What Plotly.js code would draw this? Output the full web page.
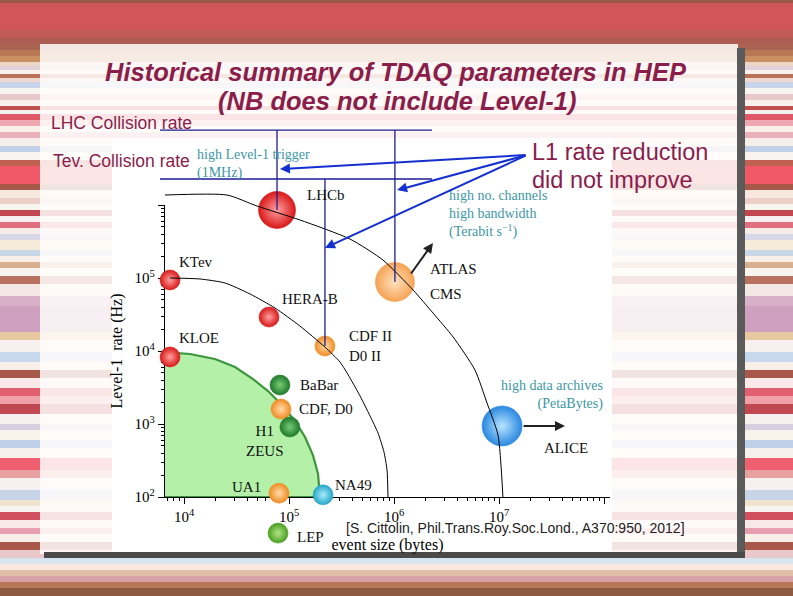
<!DOCTYPE html>
<html><head><meta charset="utf-8">
<script src="https://cdn.plot.ly/plotly-3.0.1.min.js"></script>
<style>html,body{margin:0;padding:0;background:#fff;overflow:hidden}#chart{width:793px;height:596px}</style>
</head><body><div id="chart"></div>
<script>
// ---------------- data ----------------
const experiments = ['LHCb','KTev','HERA-B','KLOE','CDF II<br>D0 II','ATLAS','BaBar','CDF, D0','H1<br>ZEUS','UA1','NA49','LEP','ALICE'];
const eventSize = [76900, 7360, 64500, 7360, 220000, 1020000, 82000, 83900, 102000, 80300, 211000, 78600, 10700000];
const l1Rate    = [855000, 94000, 29200, 8280, 11700, 88100, 3420, 1600, 910, 113, 107, 32, 940];

// green region boundary
const greenSize = [6590, 11400, 19700, 30600, 45400, 63100, 85700, 114000, 142000, 169000, 189000, 197000];
const greenRate = [9680, 9100, 7760, 6040, 4130, 2830, 1820, 1100, 664, 376, 207, 100];

// inner black curve (KTev -> CDF II -> 1 MB)
const curveASize = [7360, 14200, 24600, 42500, 73600, 127000, 220000, 306000, 381000, 475000, 591000, 704000, 803000, 858000, 877000];
const curveARate = [100000, 96900, 85400, 60400, 38800, 22000, 11300, 7070, 4270, 2420, 1290, 753, 413, 234, 100];

// outer black curve (LHCb -> ATLAS -> ALICE)
const curveBSize = [6590, 25700, 49500, 127000, 381000, 786000, 1520000, 2350000, 3650000, 5900000, 7690000, 9780000, 10900000];
const curveBRate = [1370000, 1370000, 969000, 624000, 342000, 176000, 68500, 33200, 15600, 5500, 1940, 706, 100];

// collision rates (blue guide lines) and their size extent
const lhcRate = 10600000;
const tevRate = 2270000;
const guideSize = [5910, 2300000];

// arrow end points
const arrowFrom = {size: 18500000, rate: 4840000};
const arrowTo = [{size: 82000, rate: 3110000}, {size: 1070000, rate: 1600000}, {size: 220000, rate: 258000}];
const atlasArrow = {from: {size: 1420000, rate: 110000}, to: {size: 2350000, rate: 301000}};
const aliceArrow = {from: {size: 16600000, rate: 940}, to: {size: 42500000, rate: 940}};

const xTickVals = [1e4, 1e5, 1e6, 1e7, 1e8];
const xTickText = ['10<sup>4</sup>','10<sup>5</sup>','10<sup>6</sup>','10<sup>7</sup>',''];
const yTickVals = [1e2, 1e3, 1e4, 1e5, 1e6];
const yTickText = ['10<sup>2</sup>','10<sup>3</sup>','10<sup>4</sup>','10<sup>5</sup>',''];

// ---------------- styles ----------------
const W = 793, H = 596;
const SERIF = 'Liberation Serif, Times New Roman, serif';
const SANS = 'Liberation Sans, Arial, sans-serif';
const MAROON = '#8a1d4a';
const TEAL = '#3d97a6';
const bubbleSize = [37, 20, 20, 20, 20, 39, 20, 20, 20, 20, 20, 20, 40];
const RED = ['#d81818', '#ffa0a0'], ORG = ['#f08c24', '#ffdcaa'], ORGL = ['#f5a354', '#ffe2bf'],
      DG = ['#1f7a2a', '#78cc78'], LG = ['#4aa020', '#b0e488'], CY = ['#26a6c8', '#a8ecfa'], BL = ['#2a88e0', '#b8e4ff'];
const bubbleStyle = [RED, RED, RED, RED, ORG, ORGL, DG, ORG, DG, ORG, CY, LG, BL];
// label offsets (pixels from bubble centre)
const labelStyle = [
  {dx: 28, dy: 15, a: 'left'}, {dx: 7, dy: 18, a: 'left'}, {dx: 11, dy: 18, a: 'left'}, {dx: 7, dy: 19, a: 'left'},
  {dx: 22, dy: 0, a: 'left'}, {dx: 33, dy: 13, a: 'left'}, {dx: 18, dy: 0, a: 'left'}, {dx: 16, dy: 0, a: 'left'},
  {dx: -25, dy: -14, a: 'center'}, {dx: -16, dy: 6, a: 'right'}, {dx: 10, dy: 10, a: 'left'}, {dx: 17, dy: -4, a: 'left'},
  {dx: 40, dy: -22, a: 'left'}
];

const L = Math.log10;
const px = v => v / W, py = v => 1 - v / H;

// ---------------- traces ----------------
const traces = [];
// green region on the visible axes
traces.push({x: [greenSize[0]].concat(greenSize, [greenSize[0]]), y: [100].concat(greenRate, [100]),
  xaxis: 'x', yaxis: 'y', mode: 'lines', fill: 'toself', fillcolor: '#b4f0a8', line: {width: 0}, hoverinfo: 'skip'});
traces.push({x: greenSize.concat([greenSize[0]]), y: greenRate.concat([100]), xaxis: 'x', yaxis: 'y', mode: 'lines',
  line: {color: '#3c963c', width: 2.2}, hoverinfo: 'skip'});
// bubbles on full-page axes
traces.push({x: eventSize, y: l1Rate, xaxis: 'x2', yaxis: 'y2', mode: 'markers', hoverinfo: 'skip',
  marker: {size: bubbleSize, color: bubbleStyle.map(s => s[0]), opacity: 1,
    gradient: {type: 'radial', color: bubbleStyle.map(s => s[1])},
    line: {color: bubbleStyle.map(s => s[0]), width: 0.6}}});
// black curves
traces.push({x: curveASize, y: curveARate, xaxis: 'x2', yaxis: 'y2', mode: 'lines', line: {color: '#000', width: 1, shape: 'spline', smoothing: 0.6}, hoverinfo: 'skip'});
traces.push({x: curveBSize, y: curveBRate, xaxis: 'x2', yaxis: 'y2', mode: 'lines', line: {color: '#000', width: 1, shape: 'spline', smoothing: 0.6}, hoverinfo: 'skip'});
// blue guide lines
const NAVY = '#1c1c96';
traces.push({x: guideSize, y: [lhcRate, lhcRate], xaxis: 'x2', yaxis: 'y2', mode: 'lines', line: {color: NAVY, width: 1.3}, hoverinfo: 'skip'});
traces.push({x: guideSize, y: [tevRate, tevRate], xaxis: 'x2', yaxis: 'y2', mode: 'lines', line: {color: NAVY, width: 1.3}, hoverinfo: 'skip'});
traces.push({x: [eventSize[0], eventSize[0]], y: [lhcRate, l1Rate[0]], xaxis: 'x2', yaxis: 'y2', mode: 'lines', line: {color: NAVY, width: 1.3}, hoverinfo: 'skip'});
traces.push({x: [eventSize[5], eventSize[5]], y: [lhcRate, l1Rate[5]], xaxis: 'x2', yaxis: 'y2', mode: 'lines', line: {color: NAVY, width: 1.3}, hoverinfo: 'skip'});
traces.push({x: [eventSize[4], eventSize[4]], y: [tevRate, l1Rate[4]], xaxis: 'x2', yaxis: 'y2', mode: 'lines', line: {color: NAVY, width: 1.3}, hoverinfo: 'skip'});

// ---------------- annotations ----------------
const ann = [];
experiments.forEach((name, i) => {
  const s = labelStyle[i];
  ann.push({text: name, x: L(eventSize[i]), y: L(l1Rate[i]), xref: 'x2', yref: 'y2', showarrow: false,
    xanchor: s.a, yanchor: 'middle', align: s.a === 'center' ? 'center' : 'left', xshift: s.dx, yshift: s.dy,
    font: {family: SERIF, size: 15, color: '#111'}});
});
ann.push({text: 'CMS', x: L(eventSize[5]), y: L(l1Rate[5]), xref: 'x2', yref: 'y2', showarrow: false,
  xanchor: 'left', yanchor: 'middle', xshift: 33, yshift: -12, font: {family: SERIF, size: 15, color: '#111'}});
// teal notes
ann.push({text: 'high Level-1 trigger<br>(1MHz)', x: L(eventSize[0]), y: L(l1Rate[0]), xref: 'x2', yref: 'y2', showarrow: false,
  xanchor: 'left', yanchor: 'middle', align: 'left', xshift: -82, yshift: 46, font: {family: SERIF, size: 14, color: TEAL}});
ann.push({text: 'high no. channels<br>high bandwidth<br>(Terabit s<sup>\u22121</sup>)', x: L(eventSize[5]), y: L(l1Rate[5]), xref: 'x2', yref: 'y2', showarrow: false,
  xanchor: 'left', yanchor: 'middle', align: 'left', xshift: 52, yshift: 68, font: {family: SERIF, size: 14, color: TEAL}});
ann.push({text: 'high data archives<br>(PetaBytes)', x: L(eventSize[12]), y: L(l1Rate[12]), xref: 'x2', yref: 'y2', showarrow: false,
  xanchor: 'right', yanchor: 'middle', align: 'right', xshift: 103, yshift: 31, font: {family: SERIF, size: 14, color: TEAL}});
// blue arrows
arrowTo.forEach(t => ann.push({x: L(t.size), y: L(t.rate), ax: L(arrowFrom.size), ay: L(arrowFrom.rate), xref: 'x2', yref: 'y2',
  axref: 'x2', ayref: 'y2', text: '', showarrow: true, arrowhead: 2, arrowsize: 1, arrowwidth: 2, arrowcolor: '#1530d0'}));
// black arrows
[atlasArrow, aliceArrow].forEach(a => ann.push({x: L(a.to.size), y: L(a.to.rate), ax: L(a.from.size), ay: L(a.from.rate),
  xref: 'x2', yref: 'y2', axref: 'x2', ayref: 'y2', text: '', showarrow: true, arrowhead: 2, arrowsize: 1, arrowwidth: 2, arrowcolor: '#222'}));
// slide texts
const slideText = (text, x, y, size, anchor, color) => ann.push({text: text, xref: 'paper', yref: 'paper', x: px(x), y: py(y),
  xanchor: anchor, yanchor: 'middle', showarrow: false, font: {family: SANS, size: size, color: color || MAROON}});
slideText('<b><i>Historical summary of TDAQ parameters in HEP</i></b>', 396, 72, 25.5, 'center');
slideText('<b><i>(NB does not include Level-1)</i></b>', 397, 101, 25.5, 'center');
slideText('LHC Collision rate', 49, 123, 17.5, 'left');
slideText('Tev. Collision rate', 51, 161, 17.5, 'left');
slideText('L1 rate reduction', 530, 152, 23.5, 'left');
slideText('did not improve', 530, 180, 23.5, 'left');
slideText('[S. Cittolin, Phil.Trans.Roy.Soc.Lond., A370:950, 2012]', 344, 528, 14, 'left', '#222');

// ---------------- decoration shapes ----------------
const stripes = [
  [0,3,'#9a5a48'],[3,30,'#d05657'],[30,38,'#c25a55'],[38,44,'#ac5c50'],[44,50,'#a86450'],[50,56,'#b87854'],[56,62,'#c89060'],[62,66,'#ecd6c8'],
  [66,70,'#e0d0d8'],[70,74,'#f8f0ec'],[74,78,'#b87058'],[78,82,'#f0d8d0'],[82,88,'#c8d4ec'],[88,94,'#f8f4f0'],
  [94,100,'#e8c8c8'],[100,106,'#f8f0ea'],[106,110,'#c05050'],[110,114,'#f4f0f0'],[114,120,'#e05868'],[120,126,'#f0a8b0'],
  [126,132,'#f8f0e8'],[132,138,'#e8b0b8'],[138,146,'#f6eee8'],[146,152,'#c0d0e8'],[152,160,'#faf4f0'],[160,166,'#c06050'],
  [166,184,'#f05868'],[184,190,'#a85848'],[190,198,'#f8e8e0'],[198,204,'#ecd0c8'],[204,210,'#f8f4f0'],[210,216,'#c04850'],
  [216,222,'#f8f0f0'],[222,228,'#e07080'],[228,234,'#f8ece8'],[234,240,'#d8d8e8'],[240,250,'#f4ecd8'],[250,256,'#c8d8e8'],
  [256,262,'#f8f0e8'],[262,268,'#d8b090'],[268,276,'#faf4f0'],[276,284,'#b87060'],[284,296,'#f4e8e4'],[296,306,'#d8b0c8'],
  [306,332,'#d0a0c0'],[332,340,'#e8c8a0'],[340,352,'#f8f0f0'],[352,362,'#c8d8ec'],[362,370,'#f8f0e8'],[370,378,'#a85848'],
  [378,388,'#f8e8e8'],[388,396,'#e06070'],[396,404,'#f0a0a8'],[404,414,'#c04850'],[414,424,'#f8f0f0'],[424,430,'#d8d0e0'],
  [430,440,'#f8f4ec'],[440,448,'#c0d0e8'],[448,458,'#f8f0ec'],[458,470,'#f06070'],[470,478,'#e8a0a0'],[478,490,'#f8f0f0'],
  [490,500,'#c8d4e8'],[500,506,'#f0e4d0'],[506,512,'#f8f4f0'],[512,520,'#d05060'],[520,528,'#f8e8e8'],[528,534,'#e8a0b0'],
  [534,542,'#f8f0e8'],[542,550,'#a85848'],[550,558,'#e8c8c8'],[558,564,'#d8e4f0'],[564,570,'#f8e8e0'],[570,576,'#e0c0a8'],
  [576,582,'#d8a0a8'],[582,588,'#b87858'],[588,596,'#8c5a40']
];
const shapes = [];
const rect = (x0, x1, y0, y1, fill) => shapes.push({type: 'rect', xref: 'paper', yref: 'paper', layer: 'below',
  x0: px(x0), x1: px(x1), y0: py(y1), y1: py(y0), fillcolor: fill, line: {width: 0}});
stripes.forEach(s => rect(0, W, s[0], s[1], s[2]));
rect(40, 738, 44, 554, 'rgba(255,253,251,0.85)');
rect(112, 612, 138, 553, '#ffffff');
rect(737, 745, 48, 558, '#5a5a5a');
rect(44, 745, 552, 558, '#4a4a4a');

// ---------------- layout ----------------
const axisFont = {family: SERIF, size: 15, color: '#000'};
const layout = {
  width: W, height: H, margin: {l: 0, r: 0, t: 0, b: 0}, showlegend: false,
  paper_bgcolor: '#ffffff', plot_bgcolor: 'rgba(0,0,0,0)',
  xaxis: {type: 'log', domain: [px(165), px(610)], range: [3.819, 8.0571], anchor: 'y', showline: true, linecolor: '#000', linewidth: 1.2,
    showgrid: false, zeroline: false, ticks: 'outside', ticklen: 6, tickcolor: '#000', tickmode: 'array', tickvals: xTickVals, ticktext: xTickText,
    tickfont: axisFont, layer: 'below traces', fixedrange: true,
    minor: {ticks: 'outside', ticklen: 3, tickcolor: '#000', dtick: 'D1', showgrid: false},
    title: {text: 'event size (bytes)', font: {family: SERIF, size: 16, color: '#000'}, standoff: 14}},
  yaxis: {type: 'log', domain: [py(497), py(205)], range: [2, 6], anchor: 'x', showline: true, linecolor: '#000', linewidth: 1.2,
    showgrid: false, zeroline: false, ticks: 'outside', ticklen: 6, tickcolor: '#000', tickmode: 'array', tickvals: yTickVals, ticktext: yTickText,
    tickfont: axisFont, layer: 'below traces', fixedrange: true,
    minor: {ticks: 'outside', ticklen: 3, tickcolor: '#000', dtick: 'D1', showgrid: false},
    title: {text: 'Level-1\u00a0\u00a0rate (Hz)', font: {family: SERIF, size: 16, color: '#000'}, standoff: 8}},
  xaxis2: {type: 'log', domain: [0, 1], range: [2.24762, 9.8], anchor: 'y2', visible: false, fixedrange: true},
  yaxis2: {type: 'log', domain: [0, 1], range: [0.64384, 8.80822], anchor: 'x2', visible: false, fixedrange: true},
  shapes: shapes, annotations: ann
};
Plotly.newPlot('chart', traces, layout, {staticPlot: true, displayModeBar: false});
</script></body></html>
